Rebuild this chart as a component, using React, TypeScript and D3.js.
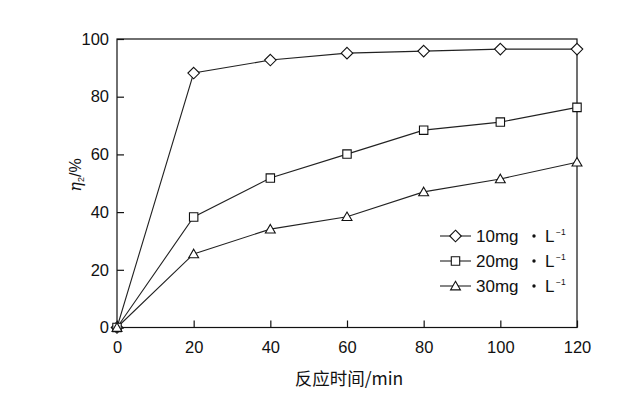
import React, { useRef, useEffect } from 'react';
import * as d3 from 'd3';

const times = [0, 20, 40, 60, 80, 100, 120];
const conc10 = [0, 88.2, 92.7, 95.1, 95.8, 96.5, 96.5];
const conc20 = [0, 38.3, 51.8, 60.1, 68.4, 71.2, 76.3];
const conc30 = [0, 25.5, 34.1, 38.4, 47, 51.5, 57.3];
const seriesNames = ['10mg', '20mg', '30mg'];
const unitLabel = 'L';
const unitExp = '−1';
const markerKinds = ['diamond', 'square', 'triangle'];
const xTicks = [0, 20, 40, 60, 80, 100, 120];
const yTicks = [0, 20, 40, 60, 80, 100];

const W = 618;
const H = 395;

const App = () => {
  const svgRef = useRef<SVGSVGElement>(null);

  useEffect(() => {
    const svg = d3.select(svgRef.current);
    svg.selectAll('*').remove();

    const left = 117, right = 577, top = 39, bottom = 327.5;
    const font = "'Liberation Sans', Arial, sans-serif";

    const x = d3.scaleLinear().domain([0, 120]).range([left, right]);
    const y = d3.scaleLinear().domain([0, 100]).range([bottom, top]);

    svg.append('rect')
      .attr('width', W).attr('height', H).attr('fill', 'white');

    // frame
    svg.append('rect')
      .attr('x', left).attr('y', top)
      .attr('width', right - left).attr('height', bottom - top)
      .attr('fill', 'none').attr('stroke', '#111').attr('stroke-width', 1.2);

    // axes, ticks pointing inwards
    const xAxis = svg.append('g')
      .attr('transform', `translate(0,${bottom})`)
      .call(d3.axisBottom(x).tickValues(xTicks).tickSize(-7).tickPadding(14));
    xAxis.select('.domain').remove();
    xAxis.selectAll('line').attr('stroke', '#111').attr('stroke-width', 1.2);
    xAxis.selectAll('text')
      .attr('font-family', font).attr('font-size', 16.5).attr('fill', '#111');

    const yAxis = svg.append('g')
      .attr('transform', `translate(${left},0)`)
      .call(d3.axisLeft(y).tickValues(yTicks).tickSize(-7).tickPadding(8));
    yAxis.select('.domain').remove();
    yAxis.selectAll('line').attr('stroke', '#111').attr('stroke-width', 1.2);
    yAxis.selectAll('text')
      .attr('font-family', font).attr('font-size', 16.5).attr('fill', '#111');

    // axis titles
    svg.append('text')
      .attr('x', 349).attr('y', 385)
      .attr('text-anchor', 'middle')
      .attr('font-family', "'Noto Sans CJK SC', sans-serif")
      .attr('font-size', 17.5).attr('fill', '#111')
      .text('反应时间/min');

    const yt = svg.append('text')
      .attr('transform', `translate(81,175) rotate(-90)`)
      .attr('text-anchor', 'middle')
      .attr('font-family', font)
      .attr('font-size', 16).attr('fill', '#111');
    yt.append('tspan').attr('font-style', 'italic').attr('font-family', "'DejaVu Serif', serif").text('η');
    yt.append('tspan').attr('font-size', 9).attr('dy', 3).text('2');
    yt.append('tspan').attr('dy', -3).text('/%');

    const symbols: Record<string, d3.SymbolType> = {
      diamond: d3.symbolDiamond2,
      square: d3.symbolSquare2,
      triangle: d3.symbolTriangle2,
    };
    const sizes: Record<string, number> = { diamond: 85, square: 90, triangle: 70 };

    const drawMarker = (g: any, kind: string, cx: number, cy: number) => {
      const dy = kind === 'triangle' ? 1 : 0;
      g.append('path')
        .attr('d', d3.symbol().type(symbols[kind]).size(sizes[kind])())
        .attr('transform', `translate(${cx},${cy + dy})`)
        .attr('fill', 'white')
        .attr('stroke', '#111')
        .attr('stroke-width', 1.1);
    };

    const allSeries = [conc10, conc20, conc30];
    const line = d3.line<number>()
      .x((d, i) => x(times[i]))
      .y(d => y(d));

    allSeries.forEach((values) => {
      svg.append('path')
        .datum(values)
        .attr('d', line)
        .attr('fill', 'none')
        .attr('stroke', '#222')
        .attr('stroke-width', 1.1);
    });
    allSeries.forEach((values, si) => {
      values.forEach((v, i) => drawMarker(svg, markerKinds[si], x(times[i]), y(v)));
    });

    // legend
    const legendY = [236, 261, 286];
    seriesNames.forEach((name, si) => {
      const ly = legendY[si];
      svg.append('line')
        .attr('x1', 440).attr('x2', 471).attr('y1', ly).attr('y2', ly)
        .attr('stroke', '#222').attr('stroke-width', 1.1);
      drawMarker(svg, markerKinds[si], 455.5, ly);
      svg.append('text')
        .attr('x', 476).attr('y', ly + 6)
        .attr('font-family', font).attr('font-size', 17).attr('fill', '#111')
        .text(name);
      svg.append('circle')
        .attr('cx', 534).attr('cy', ly).attr('r', 1.7).attr('fill', '#111');
      svg.append('text')
        .attr('x', 545).attr('y', ly + 6)
        .attr('font-family', font).attr('font-size', 17).attr('fill', '#111')
        .text(unitLabel);
      svg.append('text')
        .attr('x', 556).attr('y', ly - 1)
        .attr('font-family', font).attr('font-size', 8.5).attr('fill', '#111')
        .text(unitExp);
    });
  }, []);

  return (
    <svg ref={svgRef} width={W} height={H}
      style={{ position: 'absolute', left: 0, top: 0, display: 'block' }} />
  );
};

export default App;
